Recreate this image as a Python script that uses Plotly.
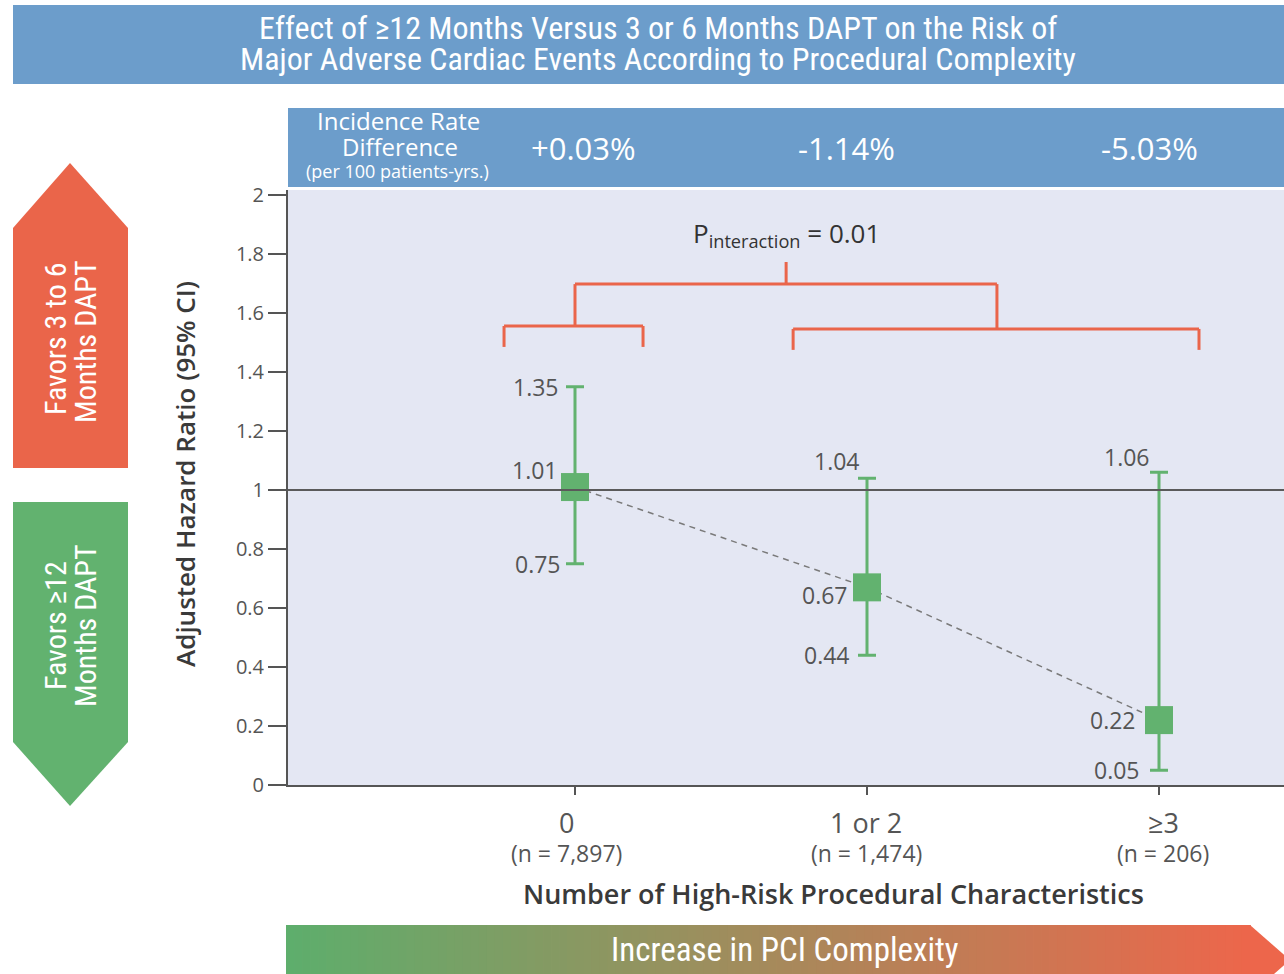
import plotly.graph_objects as go

# ---------------- data ----------------
categories = ["0", "1 or 2", "≥3"]
n_labels = ["(n = 7,897)", "(n = 1,474)", "(n = 206)"]
hr = [1.01, 0.67, 0.22]
ci_low = [0.75, 0.44, 0.05]
ci_high = [1.35, 1.04, 1.06]
incidence_diff = ["+0.03%", "-1.14%", "-5.03%"]
y_ticks = [0, 0.2, 0.4, 0.6, 0.8, 1, 1.2, 1.4, 1.6, 1.8, 2]
y_tick_labels = ["0", "0.2", "0.4", "0.6", "0.8", "1", "1.2", "1.4", "1.6", "1.8", "2"]
p_interaction = "0.01"

# ---------------- styling ----------------
W, H = 1284, 974
L, R, T, B = 288, 0, 190, 189
PW, PH = W - L - R, H - T - B
GREEN = "#62B26F"
RED = "#EA654A"
BLUE = "#6C9DCB"
BG = "#E4E7F3"
AX = "#555555"
COND = "Liberation Sans Narrow, Arial Narrow, Roboto Condensed, sans-serif"
NUM = "Open Sans, Noto Sans, sans-serif"

def px(x):
    return (x - L) / PW

def py(y):
    return (H - B - y) / PH

xpos = list(range(len(categories)))

fig = go.Figure()

# dashed trend line
fig.add_trace(go.Scatter(x=xpos, y=hr, mode="lines",
                         line=dict(color="#7a7a7a", width=1.5, dash="6px,5px"),
                         hoverinfo="skip", showlegend=False))

# points with CI
fig.add_trace(go.Scatter(
    x=xpos, y=hr, mode="markers",
    marker=dict(symbol="square", size=28, color=GREEN),
    error_y=dict(type="data", symmetric=False,
                 array=[h - m for h, m in zip(ci_high, hr)],
                 arrayminus=[m - l for m, l in zip(hr, ci_low)],
                 color=GREEN, thickness=3, width=9),
    showlegend=False))

def pann(x, y, text, font, **kw):
    d = dict(x=px(x), y=py(y), xref="paper", yref="paper", text=text, showarrow=False,
             xanchor="center", yanchor="middle", font=font, align="center")
    d.update(kw)
    fig.add_annotation(**d)

# reference line at HR = 1
fig.add_shape(type="line", xref="paper", yref="y", x0=0, x1=1, y0=1, y1=1,
              line=dict(color="#5a5a5a", width=2), layer="above")

# value labels
up_off = [(-14, 0), (-5, 17), (-7, 15)]
pt_off = [(-15, 17), (-17, -8), (-21, 0)]
lo_off = [(-12, 0), (-15, 0), (-17, 0)]
lab_font = dict(family=NUM, size=23, color="#555555")
for i in xpos:
    for val, off in ((ci_high[i], up_off[i]), (hr[i], pt_off[i]), (ci_low[i], lo_off[i])):
        fig.add_annotation(x=i, y=val, xref="x", yref="y", text=f"{val:.2f}",
                           showarrow=False, xanchor="right", yanchor="middle",
                           xshift=off[0], yshift=off[1], font=lab_font)

# category tick labels
cat_shift = [-9, -1, 4]
for i in xpos:
    fig.add_annotation(x=i, y=py(822), xref="x", yref="paper", text=categories[i],
                       showarrow=False, xanchor="center", yanchor="middle", xshift=cat_shift[i],
                       font=dict(family=NUM, size=27, color="#555555"))
    fig.add_annotation(x=i, y=py(853), xref="x", yref="paper", text=n_labels[i],
                       showarrow=False, xanchor="center", yanchor="middle", xshift=cat_shift[i],
                       font=dict(family=NUM, size=23, color="#555555"))

# interaction bracket (data coords)
brk = dict(color=RED, width=3)
left_br = (-0.243, 0.233, 1.556, 1.485)
right_br = (0.747, 2.137, 1.546, 1.475)
top_y = 1.698
stem_top = 1.773
left_mid = 0.0
right_mid = 1.445
mid = 0.723

def seg(x0, y0, x1, y1):
    fig.add_shape(type="line", xref="x", yref="y", x0=x0, y0=y0, x1=x1, y1=y1, line=brk, layer="above")

for x0, x1, yh, yl in (left_br, right_br):
    seg(x0, yl, x0, yh)
    seg(x0, yh, x1, yh)
    seg(x1, yh, x1, yl)
seg(left_mid, left_br[2], left_mid, top_y)
seg(left_mid, top_y, right_mid, top_y)
seg(right_mid, top_y, right_mid, right_br[2])
seg(mid, top_y, mid, stem_top)
fig.add_annotation(x=mid, y=stem_top, xref="x", yref="y", xanchor="center", yanchor="bottom", yshift=7,
                   text=f"P<sub>interaction</sub> = {p_interaction}", showarrow=False,
                   font=dict(family=NUM, size=26, color="#333333"))

# title banner
fig.add_shape(type="rect", xref="paper", yref="paper", x0=px(13), x1=px(1284),
              y0=py(84), y1=py(5), fillcolor=BLUE, line=dict(width=0), layer="below")
tfont = dict(family=COND, size=32, color="white")
pann(658, 28, "Effect of ≥12 Months Versus 3 or 6 Months DAPT on the Risk of", tfont)
pann(658, 59, "Major Adverse Cardiac Events According to Procedural Complexity", tfont)

# incidence header band
fig.add_shape(type="rect", xref="paper", yref="paper", x0=px(288), x1=px(1284),
              y0=py(187), y1=py(108), fillcolor=BLUE, line=dict(width=0), layer="below")
pann(398, 121, "Incidence Rate", dict(family=NUM, size=24, color="white"))
pann(400, 146, "Difference", dict(family=NUM, size=24, color="white"))
pann(397, 171, "(per 100 patients-yrs.)", dict(family=NUM, size=18, color="white"))
hdr_x = [583, 846, 1149]
for xx, t in zip(hdr_x, incidence_diff):
    pann(xx, 148, t, dict(family=NUM, size=31, color="white"))

# left arrows
fig.add_shape(type="path", xref="paper", yref="paper",
              path=f"M {px(13)},{py(468)} L {px(13)},{py(228)} L {px(70)},{py(163)} L {px(128)},{py(228)} L {px(128)},{py(468)} Z",
              fillcolor=RED, line=dict(width=0))
fig.add_shape(type="path", xref="paper", yref="paper",
              path=f"M {px(13)},{py(502)} L {px(13)},{py(742)} L {px(70)},{py(806)} L {px(128)},{py(742)} L {px(128)},{py(502)} Z",
              fillcolor=GREEN, line=dict(width=0))
afont = dict(family=COND, size=30, color="white")
pann(55, 339, "Favors 3 to 6", afont, textangle=-90)
pann(85, 342, "Months DAPT", afont, textangle=-90)
pann(55, 626, "Favors ≥12", afont, textangle=-90)
pann(85, 626, "Months DAPT", afont, textangle=-90)

# axis titles
pann(185, 474, "Adjusted Hazard Ratio (95% CI)",
     dict(family=NUM, size=26, color="#3a3a3a", weight=600), textangle=-90)
pann(833, 893, "Number of High-Risk Procedural Characteristics",
     dict(family=NUM, size=27, color="#3a3a3a", weight=600))

# bottom gradient arrow
c0 = (93, 174, 108)
c1 = (237, 102, 75)
x_start, x_end, tip = 286, 1250, 1290
nseg = 120
seg_w = (x_end - x_start) / nseg
for k in range(nseg):
    f = (k + 0.5) / nseg
    col = "rgb({},{},{})".format(*[round(a + (b - a) * f) for a, b in zip(c0, c1)])
    fig.add_shape(type="rect", xref="paper", yref="paper",
                  x0=px(x_start + k * seg_w), x1=px(x_start + (k + 1) * seg_w + 0.8),
                  y0=py(995), y1=py(925), fillcolor=col, line=dict(width=0))
fig.add_shape(type="path", xref="paper", yref="paper",
              path=f"M {px(x_end)},{py(925)} L {px(tip)},{py(960)} L {px(x_end)},{py(995)} Z",
              fillcolor="rgb(237,102,75)", line=dict(width=0))
pann(785, 949, "Increase in PCI Complexity", dict(family=COND, size=33, color="white"))

fig.update_layout(
    width=W, height=H, margin=dict(l=L, r=R, t=T, b=B),
    paper_bgcolor="white", plot_bgcolor=BG,
    xaxis=dict(range=[(L - 575) / 292, (W - 575) / 292], tickvals=xpos, ticktext=[""] * len(xpos),
               showgrid=False, zeroline=False, showline=True, linecolor=AX, linewidth=2,
               ticks="outside", ticklen=8, tickcolor=AX, tickwidth=2),
    yaxis=dict(range=[0, (H - B - T) / 295], tickvals=y_ticks, ticktext=y_tick_labels,
               showgrid=False, zeroline=False, showline=True, linecolor=AX, linewidth=2,
               ticks="outside", ticklen=18, tickcolor=AX, tickwidth=2,
               tickfont=dict(family=NUM, size=20, color="#555555")),
)

fig.write_html("out.html", config={"displayModeBar": False},
               post_script="document.body.style.margin='0';document.body.style.overflow='hidden';")
